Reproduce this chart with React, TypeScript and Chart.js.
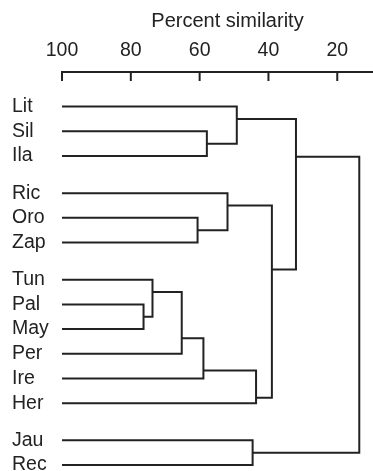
import { useEffect, useRef } from "react";
import { Chart, registerables } from "chart.js";

Chart.register(...registerables);

// ---- data ----
const leafGroups: string[][] = [
  ["Lit", "Sil", "Ila"],
  ["Ric", "Oro", "Zap"],
  ["Tun", "Pal", "May", "Per", "Ire", "Her"],
  ["Jau", "Rec"],
];
// merges: node "#i" joins mergeA[i] and mergeB[i] at mergeSimilarity[i]
const mergeA = ["Sil", "Lit", "Oro", "Ric", "Pal", "Tun", "#5", "#6", "#7", "#3", "#1", "Jau", "#10"];
const mergeB = ["Ila", "#0", "Zap", "#2", "May", "#4", "Per", "Ire", "Her", "#8", "#9", "Rec", "#11"];
const mergeSimilarity = [57.9, 49.2, 60.6, 51.9, 76.3, 73.7, 65.2, 58.9, 43.6, 39.0, 32.0, 44.6, 13.6];
const tickValues = [100, 80, 60, 40, 20];
const axisTitle = "Percent similarity";

const FONT = "'Liberation Sans', Arial, Helvetica, sans-serif";
const INK = "#222";

export default function App() {
  const ref = useRef<HTMLCanvasElement>(null);

  useEffect(() => {
    document.body.style.margin = "0";
    const leaves: string[] = [];
    const rows: number[] = [];
    let r = 0;
    leafGroups.forEach((g, gi) => {
      if (gi > 0) r += 0.5;
      g.forEach((n) => {
        leaves.push(n);
        rows.push(r);
        r += 1;
      });
    });

    const nodes: Record<string, { sim: number; y: number; n: number }> = {};
    leaves.forEach((n, i) => (nodes[n] = { sim: 100, y: rows[i], n: 1 }));

    const datasets = mergeSimilarity.map((s, i) => {
      const a = nodes[mergeA[i]];
      const b = nodes[mergeB[i]];
      const y = (b.n * a.y + a.n * b.y) / (a.n + b.n);
      nodes["#" + i] = { sim: s, y, n: a.n + b.n };
      return {
        data: [
          { x: a.sim, y: a.y },
          { x: s, y: a.y },
          { x: s, y: b.y },
          { x: b.sim, y: b.y },
        ],
        showLine: true,
        borderColor: INK,
        borderWidth: 2,
        pointRadius: 0,
        pointHitRadius: 0,
        fill: false,
        tension: 0,
      };
    });

    const inwardTicks = {
      id: "inwardTicks",
      afterDatasetsDraw(chart: any) {
        const s = chart.scales.x;
        const { ctx, chartArea } = chart;
        ctx.save();
        ctx.strokeStyle = INK;
        ctx.lineWidth = 2;
        s.ticks.forEach((t: any) => {
          const px = s.getPixelForValue(t.value);
          ctx.beginPath();
          ctx.moveTo(px, chartArea.top);
          ctx.lineTo(px, chartArea.top + 9);
          ctx.stroke();
        });
        ctx.restore();
      },
    };

    const chart = new Chart(ref.current!, {
      type: "scatter",
      data: { datasets: datasets as any },
      plugins: [inwardTicks],
      options: {
        animation: false,
        responsive: false,
        layout: { padding: { left: 12, top: 0, right: 0, bottom: 0 } },
        plugins: { legend: { display: false }, tooltip: { enabled: false } },
        scales: {
          x: {
            type: "linear",
            position: "top",
            reverse: true,
            min: 3.8,
            max: 100,
            afterBuildTicks: (s: any) => {
              s.ticks = tickValues.map((v) => ({ value: v }));
            },
            afterFit: (s: any) => {
              s.height = 72;
              s.paddingLeft = 0;
              s.paddingRight = 0;
            },
            grid: { display: true, drawOnChartArea: false, drawTicks: false },
            border: { display: true, color: INK, width: 2 },
            ticks: {
              color: INK,
              font: { family: FONT, size: 19.5 },
              padding: 10,
              maxRotation: 0,
              autoSkip: false,
            },
            title: {
              display: true,
              text: axisTitle,
              color: INK,
              font: { family: FONT, size: 20 },
              padding: { top: 9, bottom: 0 },
            },
          },
          y: {
            type: "linear",
            reverse: true,
            min: rows[0] - 1.4,
            max: rows[rows.length - 1] + 0.24,
            afterBuildTicks: (s: any) => {
              s.ticks = rows.map((v) => ({ value: v }));
            },
            afterFit: (s: any) => {
              s.width = 50;
              s.paddingTop = 0;
              s.paddingBottom = 0;
            },
            grid: { display: false },
            border: { display: false },
            ticks: {
              callback: (_v: any, i: number) => leaves[i],
              crossAlign: "far",
              color: INK,
              font: { family: FONT, size: 19.5 },
              padding: 0,
              autoSkip: false,
            },
          },
        },
      } as any,
    });
    return () => chart.destroy();
  }, []);

  return (
    <div style={{ width: 373, height: 471, overflow: "hidden" }}>
      <canvas ref={ref} width={393} height={471} style={{ display: "block" }} />
    </div>
  );
}
